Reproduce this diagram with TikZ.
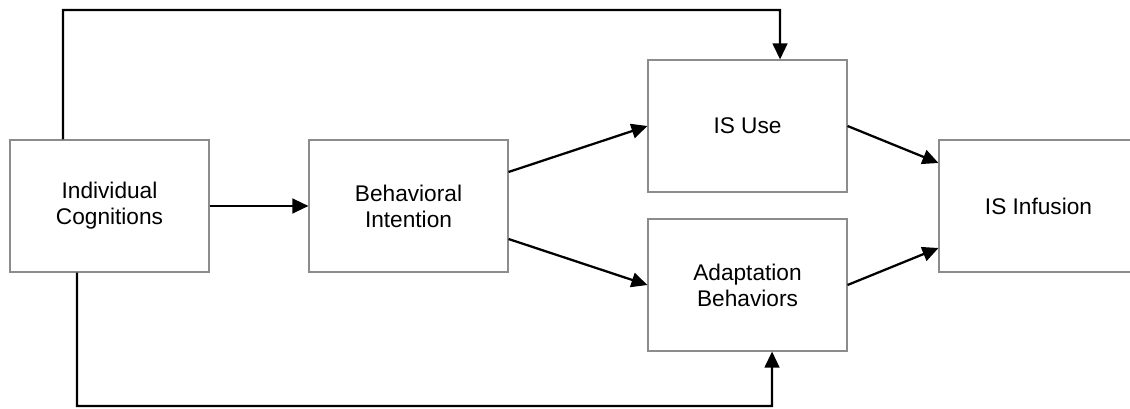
\documentclass[tikz,border=0pt]{standalone}
\usepackage{fontspec}
\setmainfont{Liberation Sans}
\usetikzlibrary{arrows.meta}
\begin{document}
\begin{tikzpicture}[x=0.75pt,y=-0.75pt,
  box/.style={draw=black!45, line width=0.8pt, fill=white, minimum width=149.25pt, minimum height=99pt, align=center, inner sep=0pt, font=\fontsize{17}{19.5}\selectfont},
  arr/.style={line width=1.7pt, -{Triangle[length=12pt,width=11pt]}}]
\clip (0,0) rectangle (1130,409);
\fill[white] (0,0) rectangle (1130,409);
\node[box] (ic) at (109.5,206) {Individual\\Cognitions};
\node[box] (bi) at (408.5,206) {Behavioral\\Intention};
\node[box] (use) at (747.5,126) {IS Use};
\node[box] (ab) at (747.5,285) {Adaptation\\Behaviors};
\node[box] (inf) at (1038.5,206) {IS Infusion};
\coordinate (tr) at (780,10);
\coordinate (br) at (772,406);
\draw[arr] (ic.east) -- (bi.west);
\draw[arr] ([yshift=25.5pt]bi.east) -- (use.west);
\draw[arr] ([yshift=-24.75pt]bi.east) -- (ab.west);
\draw[arr] (use.east) -- ([yshift=32.25pt]inf.west);
\draw[arr] (ab.east) -- ([yshift=-31.5pt]inf.west);
\draw[arr] ([xshift=-34.9pt]ic.north) |- (tr) -- ([xshift=24.4pt]use.north);
\draw[arr] ([xshift=-24.4pt]ic.south) |- (br) -- ([xshift=18.4pt]ab.south);
\end{tikzpicture}
\end{document}
